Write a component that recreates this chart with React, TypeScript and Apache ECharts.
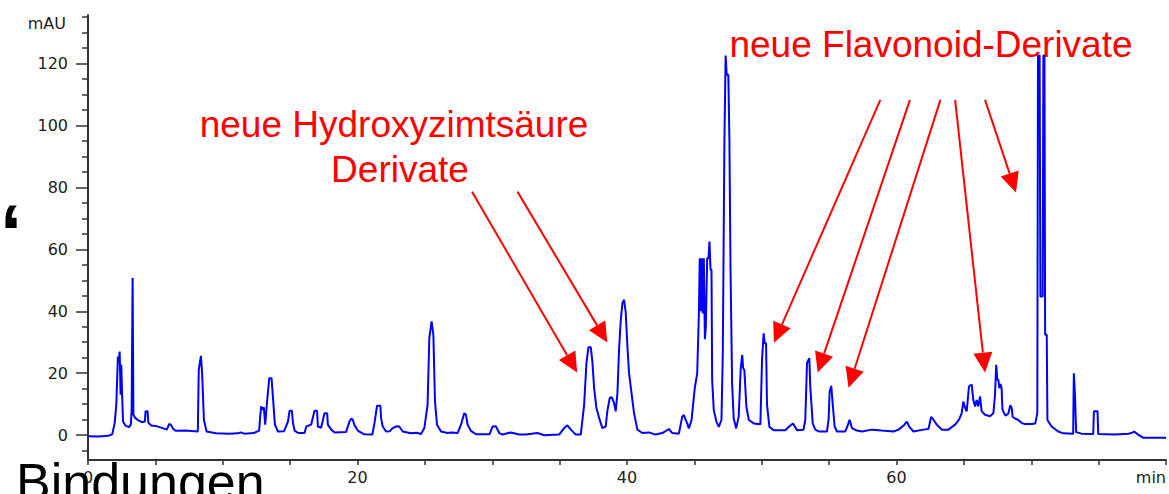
import React, { useEffect, useRef } from 'react';
import * as echarts from 'echarts';

// ---- Data (retention time in min, absorbance in mAU) ----
const traceEarly: [number, number][] = [
  [0, -0.3], [0.8, -0.4], [1.5, -0.2], [1.8, 0.3], [1.98, 3.9], [2.1, 9.8], [2.22, 25.4], [2.28, 23.5],
  [2.35, 27.0], [2.42, 13.1], [2.47, 22.7], [2.54, 12.0], [2.6, 4.4], [2.8, 3.0], [3.05, 2.6], [3.18, 3.5],
  [3.24, 8.2], [3.31, 50.7], [3.37, 6.6], [3.5, 5.6], [3.7, 4.9], [4.0, 4.2], [4.22, 4.4], [4.27, 7.7],
  [4.42, 7.7], [4.48, 4.0], [4.7, 3.1], [5.0, 3.0], [5.3, 2.6], [5.6, 2.2], [5.85, 1.8], [6.02, 3.6],
  [6.15, 3.4], [6.3, 2.2], [6.5, 1.4], [7.2, 1.5], [8.15, 1.2], [8.22, 21.1], [8.38, 25.6], [8.47, 20.0],
  [8.6, 5.0], [8.8, 1.2], [9.5, 0.6], [10.5, 0.5], [11.1, 0.6], [11.35, 0.9], [11.6, 0.5], [12.3, 0.7],
  [12.7, 1.5], [12.78, 6.1], [12.85, 9.3], [12.95, 8.2], [13.05, 9.0], [13.15, 3.4], [13.28, 10.4],
  [13.45, 18.4], [13.62, 18.4], [13.74, 11.4], [13.87, 3.4], [14.1, 1.2], [14.55, 1.3], [14.84, 4.4],
  [14.96, 7.9], [15.13, 7.9], [15.21, 3.9], [15.33, 1.5],
];

const traceMid: [number, number][] = [
  [15.6, 0.7], [16.07, 0.7], [16.2, 2.8], [16.56, 3.4], [16.81, 7.9], [17.0, 7.9], [17.06, 2.8], [17.3, 2.4],
  [17.55, 7.1], [17.75, 7.1], [17.8, 3.4], [18.05, 1.8], [18.3, 0.9], [19.15, 1.0], [19.4, 4.4], [19.55, 5.4],
  [19.65, 5.0], [19.77, 3.3], [20.02, 1.5], [20.5, 0.3], [21.1, 0.2], [21.26, 3.9], [21.45, 9.5], [21.7, 9.5],
  [21.75, 5.5], [21.87, 2.8], [22.12, 1.2], [22.4, 1.3], [22.61, 2.3], [22.9, 2.9], [23.1, 2.8], [23.36, 1.2],
  [23.97, 0.6], [24.4, 0.8], [24.71, 0.4], [24.96, 2.3], [25.2, 9.8], [25.33, 31.3], [25.5, 36.7],
  [25.63, 32.4], [25.75, 10.9], [25.9, 3.4], [26.2, 1.2], [26.69, 0.7], [27.0, 0.9], [27.43, 0.7],
  [27.68, 3.4], [27.92, 7.1], [28.05, 6.6], [28.17, 3.4], [28.42, 1.4], [28.79, 0.3], [29.8, 0.3],
  [30.02, 2.8], [30.27, 2.9], [30.52, 0.7], [30.77, 0.2], [31.38, 0.9], [32.0, 0.2], [32.5, 0.2],
  [33.36, 0.7], [33.85, 0.0], [34.96, 0.2], [35.34, 2.3], [35.58, 3.2], [35.83, 1.8], [36.2, 0.2],
  [36.57, 0.2], [36.82, 9.9], [36.99, 23.3], [37.14, 28.4], [37.31, 28.4], [37.43, 23.8], [37.56, 15.2],
  [37.73, 8.8], [37.93, 5.6], [38.17, 2.3], [38.42, 2.8], [38.54, 7.7], [38.72, 12.0], [38.87, 12.3],
  [39.04, 10.4], [39.16, 7.7], [39.29, 13.6], [39.41, 27.6], [39.53, 36.7], [39.66, 42.6], [39.78, 43.7],
  [39.9, 39.9], [40.03, 28.7], [40.15, 20.1], [40.35, 13.1], [40.52, 7.2], [40.77, 1.8], [41.14, 0.7],
  [41.63, 0.9], [42.12, 0.2], [42.62, 0.7], [43.11, 2.0], [43.36, 0.7], [43.85, 0.5],
];

const traceMain: [number, number][] = [
  [44.1, 6.0], [44.22, 6.5], [44.35, 5.0], [44.47, 3.8], [44.59, 2.2], [44.79, 4.9], [44.89, 9.2],
  [45.04, 15.6], [45.21, 19.9], [45.33, 38.3], [45.4, 57.1], [45.48, 40.0], [45.55, 57.1], [45.62, 39.3],
  [45.7, 57.1], [45.78, 31.0], [45.85, 35.0], [45.95, 57.1], [46.05, 57.1], [46.12, 62.5], [46.2, 53.4],
  [46.27, 53.4], [46.32, 17.8], [46.44, 8.1], [46.64, 4.3], [46.81, 2.7], [47.01, 4.9], [47.11, 26.4],
  [47.23, 95.3], [47.32, 122.5], [47.4, 116.3], [47.52, 116.3], [47.6, 95.3], [47.68, 54.4], [47.8, 16.7],
  [47.92, 5.4], [48.1, 2.2], [48.29, 6.0], [48.44, 21.6], [48.55, 25.9], [48.62, 21.6], [48.71, 21.0],
  [48.86, 9.2], [49.04, 4.9], [49.41, 3.8], [49.9, 3.5], [50.02, 24.3], [50.14, 32.9], [50.22, 29.7],
  [50.32, 29.7], [50.39, 9.8], [50.57, 2.7], [50.89, 1.6], [51.75, 1.6], [52.0, 2.7], [52.32, 3.8],
  [52.62, 1.6], [53.1, 1.8],
];

const traceLate: [number, number][] = [
  [53.23, 5.0], [53.36, 23.3], [53.53, 24.9], [53.6, 15.8], [53.65, 15.8], [53.78, 3.9], [53.97, 1.8],
  [54.22, 1.2], [54.84, 1.2], [54.96, 5.0], [55.04, 14.1], [55.16, 15.9], [55.28, 9.3], [55.41, 2.8],
  [55.58, 1.2], [56.2, 1.2], [56.4, 3.4], [56.52, 5.0], [56.69, 2.3], [57.06, 1.5], [57.43, 1.2],
  [58.17, 1.8], [58.91, 1.5], [59.78, 1.2], [60.15, 1.8], [60.59, 3.4], [60.77, 4.4], [60.94, 2.8],
  [61.26, 1.2], [62.0, 1.8], [62.37, 2.0], [62.57, 5.9], [62.74, 5.0], [62.99, 3.4], [63.36, 1.8],
  [63.85, 1.8], [64.35, 3.4], [64.64, 5.0], [64.84, 7.1], [64.96, 10.9], [65.09, 8.8], [65.21, 7.7],
  [65.38, 15.8], [65.58, 16.3], [65.7, 11.4], [65.83, 9.3], [65.95, 11.4], [66.07, 9.3], [66.2, 12.5],
  [66.32, 7.7], [66.57, 6.6], [66.94, 6.1], [67.19, 7.1],
];

const traceEnd: [number, number][] = [
  [67.31, 13.0], [67.4, 22.7], [67.48, 17.9], [67.56, 17.9], [67.63, 15.2], [67.72, 16.5], [67.8, 15.2],
  [67.86, 8.5], [67.95, 7.4], [68.1, 6.3], [68.3, 7.0], [68.45, 9.7], [68.55, 8.8], [68.62, 5.9],
  [68.8, 5.4], [69.04, 4.9], [69.3, 3.9], [69.53, 3.6], [70.03, 3.6], [70.3, 3.8], [70.45, 7.2],
  [70.5, 122.5], [70.62, 122.5], [70.68, 44.8], [70.85, 44.8], [70.9, 122.5], [70.98, 122.5], [71.03, 32.4],
  [71.15, 32.4], [71.2, 4.9], [71.51, 2.8], [72.0, 1.2], [72.37, 0.6], [73.11, 0.5], [73.16, 20.0],
  [73.25, 12.5], [73.33, 1.0], [73.73, 0.5], [74.6, 0.4], [74.65, 7.7], [74.92, 7.7], [74.97, 0.4],
  [76.2, 0.2], [77.2, 0.5], [77.44, 0.7], [77.63, 1.2], [77.93, 0.2], [78.3, -0.8], [80, -0.8],
];

const yMajorTicks = [0, 20, 40, 60, 80, 100, 120];
const yMinorTicks = [-5, 5, 10, 15, 25, 30, 35, 45, 50, 55, 65, 70, 75, 85, 90, 95, 105, 110, 115, 125, 130, 135];
const xLabelValues = [0, 20, 40, 60];
const xEndLabel = 'min';
const yUnit = 'mAU';

// arrows: [t start, mAU start, t tip, mAU tip]
const hydroxyArrows: number[][] = [
  [28.5, 78.6, 36.3, 20.2],
  [31.87, 78.6, 38.54, 29.9],
];
const flavonoidArrows: number[][] = [
  [58.8, 108.2, 50.9, 29.8],
  [61.0, 108.2, 54.15, 20.2],
  [63.26, 108.2, 56.44, 15.3],
  [64.35, 108.2, 66.57, 20.2],
  [66.57, 108.2, 68.87, 78.3],
];

const AXIS_COLOR = '#333333';
const LABEL_FONT = '"DejaVu Sans", "Liberation Sans", Arial, sans-serif';
const SANS = '"Liberation Sans", Arial, Helvetica, sans-serif';

export default function App() {
  const ref = useRef<HTMLDivElement>(null);

  useEffect(() => {
    const el = ref.current;
    if (!el) return;
    const chart = echarts.init(el, null, { renderer: 'svg' });
    const trace = [...traceEarly, ...traceMid, ...traceMain, ...traceLate, ...traceEnd];

    const option: any = {
      animation: false,
      backgroundColor: '#ffffff',
      grid: { left: 88, right: 3, top: 15, bottom: 34, containLabel: false },
      xAxis: {
        type: 'value',
        min: 0,
        max: 80,
        interval: 5,
        axisLine: { show: true, onZero: false, lineStyle: { color: AXIS_COLOR, width: 2 } },
        axisTick: { show: true, length: 5, lineStyle: { color: AXIS_COLOR, width: 1.5 } },
        axisLabel: {
          formatter: (v: number) => (v === 80 ? xEndLabel : xLabelValues.includes(v) ? String(v) : ''),
          margin: 9,
          color: '#222',
          fontSize: 16,
          fontFamily: LABEL_FONT,
          alignMaxLabel: 'right',
        },
        splitLine: { show: false },
      },
      yAxis: [
        {
          type: 'value',
          min: -8,
          max: 135.6,
          position: 'left',
          axisLine: { show: true, onZero: false, lineStyle: { color: AXIS_COLOR, width: 2 } },
          axisTick: { show: true, length: 12, customValues: yMajorTicks, lineStyle: { color: AXIS_COLOR, width: 1.5 } },
          axisLabel: { customValues: yMajorTicks, margin: 20, color: '#222', fontSize: 16, fontFamily: LABEL_FONT },
          splitLine: { show: false },
          name: yUnit,
          nameLocation: 'end',
          nameGap: -8,
          nameTextStyle: {
            align: 'right',
            verticalAlign: 'middle',
            padding: [0, 22, 0, 0],
            color: '#222',
            fontSize: 16,
            fontFamily: LABEL_FONT,
          },
        },
        {
          type: 'value',
          min: -8,
          max: 135.6,
          position: 'left',
          axisLine: { show: false },
          axisTick: { show: true, length: 6, customValues: yMinorTicks, lineStyle: { color: AXIS_COLOR, width: 1.5 } },
          axisLabel: { show: false },
          splitLine: { show: false },
        },
      ],
      series: [
        {
          type: 'line',
          data: trace,
          yAxisIndex: 0,
          showSymbol: false,
          symbol: 'none',
          silent: true,
          lineStyle: { color: '#0000ff', width: 2 },
        },
      ],
    };
    chart.setOption(option);

    const HEAD_LEN = 20;
    const HEAD_HW = 9.5;
    const toPx = (p: number[]) => chart.convertToPixel({ seriesIndex: 0 }, p) as unknown as number[];
    const arrowEls: any[] = [];
    [...hydroxyArrows, ...flavonoidArrows].forEach(([t1, v1, t2, v2]) => {
      const [x1, y1] = toPx([t1, v1]);
      const [x2, y2] = toPx([t2, v2]);
      const dx = x2 - x1;
      const dy = y2 - y1;
      const len = Math.hypot(dx, dy) || 1;
      const ux = dx / len;
      const uy = dy / len;
      const bx = x2 - ux * HEAD_LEN;
      const by = y2 - uy * HEAD_LEN;
      const nx = -uy;
      const ny = ux;
      arrowEls.push({
        type: 'line',
        z: 50,
        silent: true,
        shape: { x1, y1, x2: bx, y2: by },
        style: { stroke: '#ff0000', lineWidth: 2 },
      });
      arrowEls.push({
        type: 'polygon',
        z: 50,
        silent: true,
        shape: { points: [[x2, y2], [bx + nx * HEAD_HW, by + ny * HEAD_HW], [bx - nx * HEAD_HW, by - ny * HEAD_HW]] },
        style: { fill: '#ff0000' },
      });
    });

    const txt = (text: string, x: number, y: number, size: number, fill: string, align: string, weight = 'normal') => ({
      type: 'text',
      z: 100,
      silent: true,
      x,
      y,
      style: {
        text,
        fill,
        font: `${weight} ${size}px ${SANS}`,
        align,
        textAlign: align,
        verticalAlign: 'middle',
        textVerticalAlign: 'middle',
      },
    });

    chart.setOption({
      graphic: [
        ...arrowEls,
        txt('neue Hydroxyzimtsäure', 394, 124, 37, '#ff0000', 'center'),
        txt('Derivate', 400, 169, 37, '#ff0000', 'center'),
        txt('neue Flavonoid-Derivate', 931, 44, 37, '#ff0000', 'center'),
        txt('Bindungen', 16, 482, 52, '#000000', 'left'),
        txt('‘', 0, 232, 80, '#000000', 'left', 'bold'),
      ],
    });

    return () => chart.dispose();
  }, []);

  return (
    <div
      ref={ref}
      style={{ position: 'fixed', left: 0, top: 0, width: 1169, height: 494, background: '#ffffff' }}
    />
  );
}
